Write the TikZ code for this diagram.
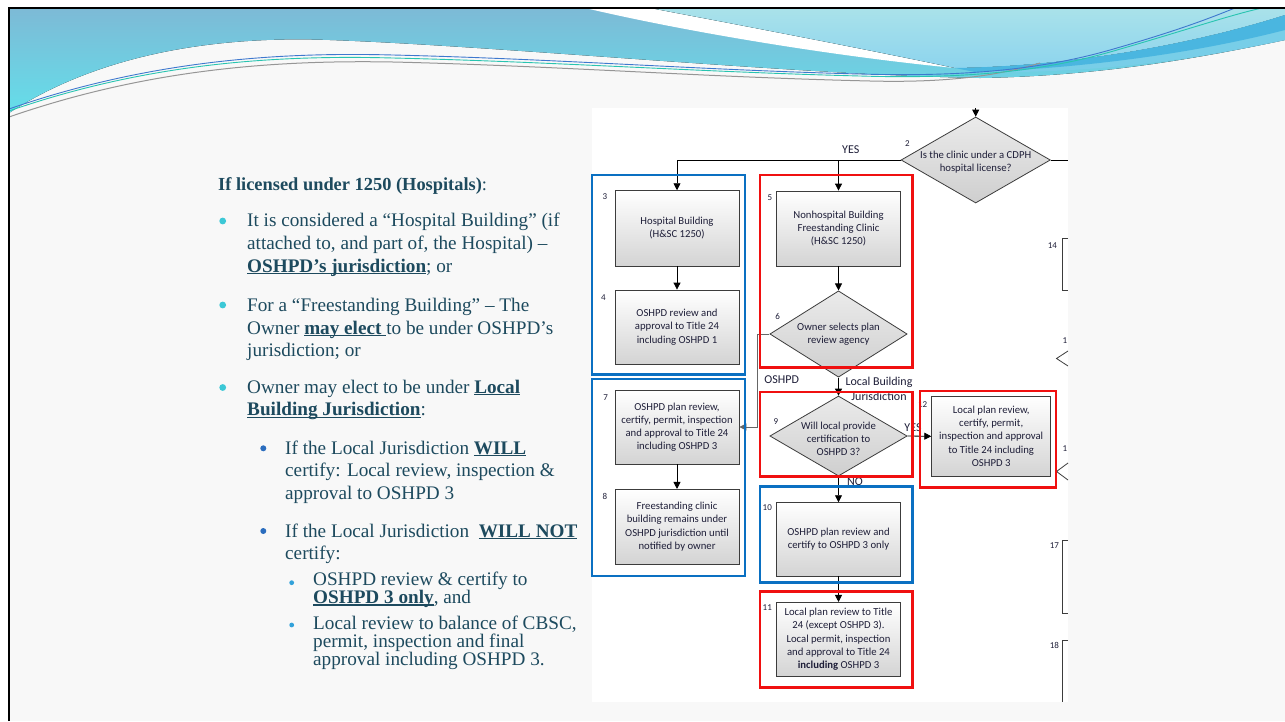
\documentclass[tikz,border=0pt]{standalone}
\usepackage{fontspec}
\setmainfont{Liberation Serif}
\newfontfamily\fcf{Carlito}
\usetikzlibrary{shapes.geometric,arrows.meta}
\definecolor{ltext}{HTML}{1D4A5E}
\definecolor{fctext}{HTML}{1E1E38}
\definecolor{boxline}{HTML}{3C3C3C}
\definecolor{fblue}{HTML}{0A70C2}
\definecolor{fred}{HTML}{F01010}
\definecolor{bgc}{HTML}{F8F8F8}
\definecolor{bTop}{RGB}{125,186,214}
\definecolor{bBot}{RGB}{100,222,234}
\definecolor{lTop}{RGB}{170,226,234}
\definecolor{lBot}{RGB}{140,212,238}
\definecolor{bandc}{RGB}{74,182,224}
\definecolor{bandl}{RGB}{120,206,232}
\definecolor{lnteal}{RGB}{40,196,176}
\definecolor{lnblue}{RGB}{62,120,206}
\definecolor{lngray}{RGB}{150,150,150}
\definecolor{bulA}{HTML}{3CC8D6}
\definecolor{bulB}{HTML}{2B6DBE}
\definecolor{bulC}{HTML}{33A2DA}
\newcommand\myul[1]{\setbox0=\hbox{#1}\rlap{\rule[-2.3pt]{\wd0}{1.2pt}}\box0}
\begin{document}
\begin{tikzpicture}[x=1pt,y=-1pt,
  box/.style={draw=boxline, line width=0.8pt, top color=white, bottom color=black!17,
    minimum width=124pt, inner sep=1pt, align=center, text=fctext,
    font=\fcf\fontsize{10.7}{13.2}\selectfont},
  dia/.style={diamond, draw=boxline, line width=0.8pt, top color=black!8, bottom color=black!19, inner sep=0pt},
  dtext/.style={align=center, inner sep=0pt, text=fctext, font=\fcf\fontsize{10.7}{13.2}\selectfont},
  arr/.style={-{Triangle[length=7pt,width=7pt]}, line width=0.8pt, black},
  conn/.style={line width=0.8pt, black},
  num/.style={inner sep=0pt, text=fctext, font=\fcf\fontsize{9}{9}\selectfont},
  lab/.style={inner sep=0pt, text=fctext, align=center, font=\fcf\fontsize{12}{15}\selectfont},
  bframe/.style={draw=fblue, line width=2.6pt},
  rframe/.style={draw=fred, line width=2.6pt},
  part/.style={draw=boxline, line width=0.8pt},
  lt/.style={anchor=base west, inner sep=0pt, text=ltext, font=\fontsize{19.2}{22}\selectfont},
]
\useasboundingbox (0,0) rectangle (1285,721);
% slide background
\fill[white] (0,0) rectangle (1285,721);
\fill[bgc] (9,8) rectangle (1285,721);
% banner
\fill[top color=bTop, bottom color=bBot] (9,8) -- (1285,8) -- (1285,40)
  .. controls (1200,58) and (1100,76) .. (980,78)
  .. controls (800,75) and (500,46) .. (330,40)
  .. controls (200,35) and (90,60) .. (9,113) -- cycle;
\fill[white] (585,8) .. controls (700,35) and (850,58) .. (955,68)
  .. controls (870,50) and (740,25) .. (650,8) -- cycle;
\fill[top color=lTop, bottom color=lBot] (650,8) .. controls (740,25) and (870,50) .. (955,68)
  .. controls (1080,66) and (1200,42) .. (1285,15) -- (1285,8) -- cycle;
\fill[bandl] (975,72) .. controls (1090,66) and (1200,46) .. (1285,26) -- (1285,40)
  .. controls (1200,58) and (1100,74) .. (975,72) -- cycle;
\fill[bandc] (955,68) .. controls (1080,66) and (1200,42) .. (1285,15) -- (1285,30)
  .. controls (1200,52) and (1090,68) .. (975,72) -- cycle;
\draw[lngray, line width=1pt] (9,117) .. controls (150,68) and (280,60) .. (393,62)
  .. controls (560,66) and (700,77) .. (870,81) .. controls (950,83) and (1000,75) .. (1040,63);
\draw[lnblue, line width=0.9pt] (9,109) .. controls (150,60) and (280,52) .. (393,55)
  .. controls (560,59) and (700,70) .. (860,74) .. controls (960,77) and (1040,70) .. (1110,50)
  .. controls (1180,30) and (1210,18) .. (1235,8);
\draw[lnteal, line width=0.9pt] (9,111) .. controls (150,62) and (280,55) .. (393,58)
  .. controls (560,62) and (700,72) .. (860,76) .. controls (960,79) and (1040,72) .. (1110,52)
  .. controls (1180,32) and (1230,15) .. (1262,8);
% slide border
\draw[black, line width=2.5pt] (9,721) -- (9,8) -- (1285,8);

% ---------- left text ----------
\node[lt, font=\fontsize{18.4}{22}\selectfont] (h0) at (218,190) {\textbf{If licensed under 1250 (Hospitals)}:};
\fill[bulA] (222.7,221) circle (3.4pt);
\node[lt] (a1) at (247,226.7) {It is considered a “Hospital Building” (if};
\node[lt] (a2) at (247,249.7) {attached to, and part of, the Hospital) –};
\node[lt] (a3) at (247,272) {\myul{\textbf{OSHPD’s jurisdiction}}; or};
\fill[bulA] (222.7,305) circle (3.4pt);
\node[lt] (b1) at (247,311.7) {For a “Freestanding Building” – The};
\node[lt] (b2) at (247,334) {Owner \myul{\textbf{may elect }}to be under OSHPD’s};
\node[lt] (b3t) at (247,356) {jurisdiction; or};
\fill[bulA] (222.7,387.5) circle (3.4pt);
\node[lt] (c1) at (247,393) {Owner may elect to be under \myul{\textbf{Local}}};
\node[lt] (c2) at (247,415.5) {\myul{\textbf{Building Jurisdiction}}:};
\fill[bulB] (263.3,448.3) circle (3pt);
\node[lt] (d1) at (285,454) {If the Local Jurisdiction \myul{\textbf{WILL}}};
\node[lt] (d2l) at (285,476) {certify: Local review, inspection \&};
\node[lt] (d3l) at (285,499) {approval to OSHPD 3};
\fill[bulB] (263.3,531) circle (3pt);
\node[lt] (e1) at (285,537) {If the Local Jurisdiction\ \ \myul{\textbf{WILL NOT}}};
\node[lt] (e2) at (285,559) {certify:};
\fill[bulC] (291.7,582.7) circle (2.4pt);
\node[lt] (f1) at (313,585.7) {OSHPD review \& certify to};
\node[lt] (f2) at (313,603.3) {\myul{\textbf{OSHPD 3 only}}, and};
\fill[bulC] (291.7,625) circle (2.4pt);
\node[lt] (g1) at (313,629.3) {Local review to balance of CBSC,};
\node[lt] (g2) at (313,647.7) {permit, inspection and final};
\node[lt] (g3) at (313,665) {approval including OSHPD 3.};

% ---------- flowchart ----------
\fill[white] (592,108) rectangle (1068,702);

\node[dia, minimum width=149.3pt, minimum height=86pt] (d2) at (975.7,160) {};
\node[dtext] (d2t) at (975.7,162.5) {Is the clinic under a CDPH\\hospital license?};
\node[box, minimum height=75.3pt] (n3) at (677,228.3) {Hospital Building\\(H\&SC 1250)};
\node[box, minimum height=74pt] (n4) at (677,327) {OSHPD review and\\approval to Title 24\\including OSHPD 1};
\node[box, minimum height=75pt] (n5) at (838.5,228.5) {Nonhospital Building\\Freestanding Clinic\\(H\&SC 1250)};
\node[dia, minimum width=137.3pt, minimum height=86.3pt] (d6) at (838.5,334) {};
\node[dtext] (d6t) at (838.5,334.5) {Owner selects plan\\review agency};
\node[box, minimum height=74pt] (n7) at (677,427) {OSHPD plan review,\\certify, permit, inspection\\and approval to Title 24\\including OSHPD 3};
\node[box, minimum height=74.7pt] (n8) at (677,526.7) {Freestanding clinic\\building remains under\\OSHPD jurisdiction until\\notified by owner};
\node[dia, minimum width=137.3pt, minimum height=80pt] (d9) at (838.5,436) {};
\node[dtext] (d9t) at (838.5,439) {Will local provide\\certification to\\OSHPD 3?};
\node[box, minimum width=119pt, minimum height=80.7pt] (n12) at (991.2,436.3) {Local plan review,\\certify, permit,\\inspection and approval\\to Title 24 including\\OSHPD 3};
\node[box, minimum height=73.3pt] (n10) at (838.5,539.3) {OSHPD plan review and\\certify to OSHPD 3 only};
\node[box, minimum height=73.7pt] (n11) at (838.5,639.2) {Local plan review to Title\\24 (except OSHPD 3).\\Local permit, inspection\\and approval to Title 24\\\textbf{including} OSHPD 3};

% connectors
\coordinate (in2) at (975.7,108);
\coordinate (out2) at (1068,160);
\draw[arr] (in2) -- (d2.north);
\draw[conn] (d2.east) -- (out2);
\draw[arr] (d2.west) -| (n3.north);
\draw[arr] (n5.north |- d2.west) -- (n5.north);
\draw[arr] (n3.south) -- (n4.north);
\draw[arr] (n5.south) -- (d6.north);
\draw[arr, black!60] (d6.west) -- ++(-12.3,0) |- (n7.east);
\draw[arr] (d6.south) -- (d9.north);
\draw[arr] (d9.east) -- (n12.west);
\draw[arr] (n7.south) -- (n8.north);
\draw[arr] (d9.south) -- (n10.north);
\draw[arr] (n10.south) -- (n11.north);

% labels
\node[lab] (lyes1) at (850.7,149.3) {YES};
\node[lab] (loshpd) at (781.7,380) {OSHPD};
\node[lab] (llocal) at (879,389) {Local Building\\Jurisdiction};
\node[lab] (lyes2) at (913,427.5) {YES};
\node[lab] (lno) at (855,482) {NO};

% numbers
\node[num] (k2) at (907.3,143.3) {2};
\node[num] (k3) at (605,197) {3};
\node[num] (k4) at (603.3,297.3) {4};
\node[num] (k5) at (770,197.3) {5};
\node[num] (k6) at (777.7,316) {6};
\node[num] (k7) at (605.7,397.3) {7};
\node[num] (k8) at (605,496) {8};
\node[num] (k9) at (776,421.7) {9};
\node[num] (k10) at (767.3,507.3) {10};
\node[num] (k11) at (767.3,607.3) {11};
\node[num] (k12) at (922.7,404.3) {12};
\node[num] (k14) at (1052.3,245.7) {14};
\node[num] (k15) at (1065,340.7) {1};
\node[num] (k16) at (1065,448.3) {1};
\node[num] (k17) at (1054.3,546) {17};
\node[num] (k18) at (1054.3,645) {18};

% partial shapes at right edge
\draw[part] (1068,238) -- (1062,238) -- (1062,290) -- (1068,290);
\draw[part] (1068,351) -- (1056.5,358.5) -- (1068,366);
\draw[part] (1068,463) -- (1056.5,471.5) -- (1068,480);
\draw[part] (1068,540) -- (1062,540) -- (1062,613) -- (1068,613);
\draw[part] (1068,640) -- (1062,640) -- (1062,702);

% frames
\draw[bframe] (592,175) rectangle (745,374.3);
\draw[rframe] (760,175) rectangle (912.3,367.3);
\draw[bframe] (592,379) rectangle (745,576);
\draw[rframe] (760,392) rectangle (912.3,476.7);
\draw[rframe] (920,391) rectangle (1056,487.3);
\draw[bframe] (760,486.7) rectangle (912.3,582.7);
\draw[rframe] (760,591.7) rectangle (912.3,687.3);
\end{tikzpicture}
\end{document}
